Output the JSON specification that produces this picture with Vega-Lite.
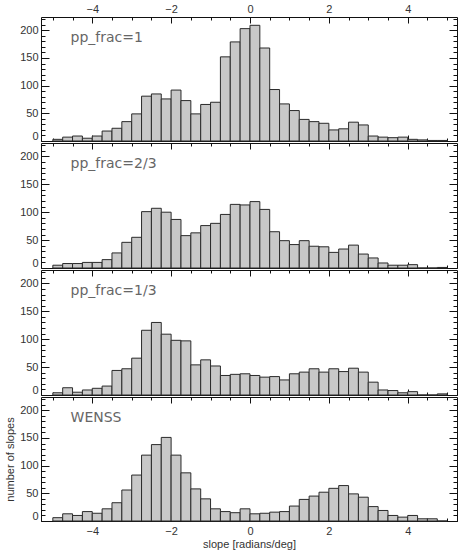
{
  "$schema": "https://vega.github.io/schema/vega-lite/v6.json",
  "padding": {"left": 4, "top": 2, "right": 5, "bottom": 2},
  "datasets": {
    "p1": [
      {"a":-5,"b":-4.75,"n":3},{"a":-4.75,"b":-4.5,"n":7},{"a":-4.5,"b":-4.25,"n":9},{"a":-4.25,"b":-4,"n":5},
      {"a":-4,"b":-3.75,"n":9},{"a":-3.75,"b":-3.5,"n":18},{"a":-3.5,"b":-3.25,"n":23},{"a":-3.25,"b":-3,"n":35},
      {"a":-3,"b":-2.75,"n":49},{"a":-2.75,"b":-2.5,"n":81},{"a":-2.5,"b":-2.25,"n":85},{"a":-2.25,"b":-2,"n":76},
      {"a":-2,"b":-1.75,"n":92},{"a":-1.75,"b":-1.5,"n":73},{"a":-1.5,"b":-1.25,"n":49},{"a":-1.25,"b":-1,"n":66},
      {"a":-1,"b":-0.75,"n":70},{"a":-0.75,"b":-0.5,"n":152},{"a":-0.5,"b":-0.25,"n":179},{"a":-0.25,"b":0,"n":203},
      {"a":0,"b":0.25,"n":209},{"a":0.25,"b":0.5,"n":168},{"a":0.5,"b":0.75,"n":93},{"a":0.75,"b":1,"n":67},
      {"a":1,"b":1.25,"n":55},{"a":1.25,"b":1.5,"n":39},{"a":1.5,"b":1.75,"n":35},{"a":1.75,"b":2,"n":32},
      {"a":2,"b":2.25,"n":20},{"a":2.25,"b":2.5,"n":22},{"a":2.5,"b":2.75,"n":34},{"a":2.75,"b":3,"n":29},
      {"a":3,"b":3.25,"n":9},{"a":3.25,"b":3.5,"n":7},{"a":3.5,"b":3.75,"n":6},{"a":3.75,"b":4,"n":7},
      {"a":4,"b":4.25,"n":3},{"a":4.25,"b":4.5,"n":2},{"a":4.5,"b":4.75,"n":1},{"a":4.75,"b":5,"n":1}
    ],
    "p2": [
      {"a":-5,"b":-4.75,"n":5},{"a":-4.75,"b":-4.5,"n":8},{"a":-4.5,"b":-4.25,"n":8},{"a":-4.25,"b":-4,"n":10},
      {"a":-4,"b":-3.75,"n":10},{"a":-3.75,"b":-3.5,"n":15},{"a":-3.5,"b":-3.25,"n":27},{"a":-3.25,"b":-3,"n":46},
      {"a":-3,"b":-2.75,"n":55},{"a":-2.75,"b":-2.5,"n":101},{"a":-2.5,"b":-2.25,"n":107},{"a":-2.25,"b":-2,"n":100},
      {"a":-2,"b":-1.75,"n":87},{"a":-1.75,"b":-1.5,"n":58},{"a":-1.5,"b":-1.25,"n":63},{"a":-1.25,"b":-1,"n":76},
      {"a":-1,"b":-0.75,"n":80},{"a":-0.75,"b":-0.5,"n":96},{"a":-0.5,"b":-0.25,"n":114},{"a":-0.25,"b":0,"n":113},
      {"a":0,"b":0.25,"n":119},{"a":0.25,"b":0.5,"n":105},{"a":0.5,"b":0.75,"n":65},{"a":0.75,"b":1,"n":49},
      {"a":1,"b":1.25,"n":42},{"a":1.25,"b":1.5,"n":49},{"a":1.5,"b":1.75,"n":39},{"a":1.75,"b":2,"n":38},
      {"a":2,"b":2.25,"n":28},{"a":2.25,"b":2.5,"n":34},{"a":2.5,"b":2.75,"n":41},{"a":2.75,"b":3,"n":25},
      {"a":3,"b":3.25,"n":18},{"a":3.25,"b":3.5,"n":9},{"a":3.5,"b":3.75,"n":5},{"a":3.75,"b":4,"n":5},
      {"a":4,"b":4.25,"n":6},{"a":4.25,"b":4.5,"n":0},{"a":4.5,"b":4.75,"n":0},{"a":4.75,"b":5,"n":1}
    ],
    "p3": [
      {"a":-5,"b":-4.75,"n":4},{"a":-4.75,"b":-4.5,"n":13},{"a":-4.5,"b":-4.25,"n":5},{"a":-4.25,"b":-4,"n":9},
      {"a":-4,"b":-3.75,"n":12},{"a":-3.75,"b":-3.5,"n":16},{"a":-3.5,"b":-3.25,"n":44},{"a":-3.25,"b":-3,"n":47},
      {"a":-3,"b":-2.75,"n":66},{"a":-2.75,"b":-2.5,"n":116},{"a":-2.5,"b":-2.25,"n":130},{"a":-2.25,"b":-2,"n":109},
      {"a":-2,"b":-1.75,"n":98},{"a":-1.75,"b":-1.5,"n":97},{"a":-1.5,"b":-1.25,"n":54},{"a":-1.25,"b":-1,"n":63},
      {"a":-1,"b":-0.75,"n":52},{"a":-0.75,"b":-0.5,"n":35},{"a":-0.5,"b":-0.25,"n":37},{"a":-0.25,"b":0,"n":38},
      {"a":0,"b":0.25,"n":35},{"a":0.25,"b":0.5,"n":32},{"a":0.5,"b":0.75,"n":33},{"a":0.75,"b":1,"n":27},
      {"a":1,"b":1.25,"n":38},{"a":1.25,"b":1.5,"n":41},{"a":1.5,"b":1.75,"n":47},{"a":1.75,"b":2,"n":41},
      {"a":2,"b":2.25,"n":47},{"a":2.25,"b":2.5,"n":42},{"a":2.5,"b":2.75,"n":48},{"a":2.75,"b":3,"n":41},
      {"a":3,"b":3.25,"n":23},{"a":3.25,"b":3.5,"n":9},{"a":3.5,"b":3.75,"n":8},{"a":3.75,"b":4,"n":4},
      {"a":4,"b":4.25,"n":6},{"a":4.25,"b":4.5,"n":0},{"a":4.5,"b":4.75,"n":0},{"a":4.75,"b":5,"n":2}
    ],
    "p4": [
      {"a":-5,"b":-4.75,"n":6},{"a":-4.75,"b":-4.5,"n":13},{"a":-4.5,"b":-4.25,"n":10},{"a":-4.25,"b":-4,"n":17},
      {"a":-4,"b":-3.75,"n":14},{"a":-3.75,"b":-3.5,"n":22},{"a":-3.5,"b":-3.25,"n":33},{"a":-3.25,"b":-3,"n":56},
      {"a":-3,"b":-2.75,"n":83},{"a":-2.75,"b":-2.5,"n":119},{"a":-2.5,"b":-2.25,"n":138},{"a":-2.25,"b":-2,"n":151},
      {"a":-2,"b":-1.75,"n":119},{"a":-1.75,"b":-1.5,"n":87},{"a":-1.5,"b":-1.25,"n":58},{"a":-1.25,"b":-1,"n":40},
      {"a":-1,"b":-0.75,"n":22},{"a":-0.75,"b":-0.5,"n":17},{"a":-0.5,"b":-0.25,"n":15},{"a":-0.25,"b":0,"n":22},
      {"a":0,"b":0.25,"n":13},{"a":0.25,"b":0.5,"n":14},{"a":0.5,"b":0.75,"n":16},{"a":0.75,"b":1,"n":17},
      {"a":1,"b":1.25,"n":27},{"a":1.25,"b":1.5,"n":39},{"a":1.5,"b":1.75,"n":45},{"a":1.75,"b":2,"n":52},
      {"a":2,"b":2.25,"n":59},{"a":2.25,"b":2.5,"n":64},{"a":2.5,"b":2.75,"n":49},{"a":2.75,"b":3,"n":43},
      {"a":3,"b":3.25,"n":26},{"a":3.25,"b":3.5,"n":19},{"a":3.5,"b":3.75,"n":10},{"a":3.75,"b":4,"n":7},
      {"a":4,"b":4.25,"n":10},{"a":4.25,"b":4.5,"n":4},{"a":4.5,"b":4.75,"n":4},{"a":4.75,"b":5,"n":0}
    ]
  },
  "spacing": 0,
  "vconcat": [
    {
      "width": 416, "height": 124,
      "data": {"name": "p1"},
      "layer": [
        {"mark": {"type": "bar", "fill": "#c8c8c8", "stroke": "#2a2a2a", "strokeWidth": 1},
         "encoding": {
           "x": {"field": "a", "type": "quantitative", "scale": {"domain": [-5.3, 5.25], "nice": false, "zero": false},
                 "axis": {"orient": "bottom", "values": [-4,-2,0,2,4], "tickSize": -6, "labels": false, "domain": false, "title": null}},
           "x2": {"field": "b"},
           "y": {"field": "n", "type": "quantitative", "scale": {"domain": [0, 224], "nice": false},
                 "axis": {"orient": "left", "values": [0,50,100,150,200], "tickSize": -8, "labelPadding": 11, "labelFlush": true, "domain": false, "title": null}},
           "y2": {"datum": 0}}},
        {"mark": {"type": "bar", "opacity": 0},
         "encoding": {
           "x": {"field": "a", "type": "quantitative", "scale": {"domain": [-5.3, 5.25], "nice": false, "zero": false},
                 "axis": {"orient": "bottom", "values": [-5,-4.5,-4,-3.5,-3,-2.5,-2,-1.5,-1,-0.5,0,0.5,1,1.5,2,2.5,3,3.5,4,4.5,5], "tickSize": -3, "labels": false, "domain": false, "title": null}},
           "x2": {"field": "b"},
           "y": {"field": "n", "type": "quantitative", "scale": {"domain": [0, 224], "nice": false},
                 "axis": {"orient": "left", "values": [0,10,20,30,40,50,60,70,80,90,100,110,120,130,140,150,160,170,180,190,200,210,220], "tickSize": -4, "labels": false, "domain": false, "title": null}},
           "y2": {"datum": 0}}},
        {"mark": {"type": "bar", "opacity": 0},
         "encoding": {
           "x": {"field": "a", "type": "quantitative", "scale": {"domain": [-5.3, 5.25], "nice": false, "zero": false},
                 "axis": {"orient": "top", "values": [-4,-2,0,2,4], "tickSize": -6, "labels": true, "labelPadding": 9, "domain": false, "title": null}},
           "x2": {"field": "b"},
           "y": {"field": "n", "type": "quantitative", "scale": {"domain": [0, 224], "nice": false},
                 "axis": {"orient": "right", "values": [0,50,100,150,200], "tickSize": -8, "labels": false, "domain": false, "title": null}},
           "y2": {"datum": 0}}},
        {"mark": {"type": "bar", "opacity": 0},
         "encoding": {
           "x": {"field": "a", "type": "quantitative", "scale": {"domain": [-5.3, 5.25], "nice": false, "zero": false},
                 "axis": {"orient": "top", "values": [-5,-4.5,-4,-3.5,-3,-2.5,-2,-1.5,-1,-0.5,0,0.5,1,1.5,2,2.5,3,3.5,4,4.5,5], "tickSize": -3, "labels": false, "domain": false, "title": null}},
           "x2": {"field": "b"},
           "y": {"field": "n", "type": "quantitative", "scale": {"domain": [0, 224], "nice": false},
                 "axis": {"orient": "right", "values": [0,10,20,30,40,50,60,70,80,90,100,110,120,130,140,150,160,170,180,190,200,210,220], "tickSize": -4, "labels": false, "domain": false, "title": null}},
           "y2": {"datum": 0}}},
        {"data": {"values": [{"x": -4.55, "y": 186, "label": "pp_frac=1"}]},
         "mark": {"type": "text", "align": "left", "baseline": "middle", "font": "DejaVu Sans", "fontSize": 14, "color": "#666"},
         "encoding": {
           "x": {"field": "x", "type": "quantitative", "scale": {"domain": [-5.3, 5.25], "nice": false, "zero": false}, "axis": null},
           "y": {"field": "y", "type": "quantitative", "scale": {"domain": [0, 224], "nice": false}, "axis": null},
           "text": {"field": "label"}}}
      ],
      "resolve": {"axis": {"x": "independent", "y": "independent"}}
    },
    {
      "width": 416, "height": 125,
      "data": {"name": "p2"},
      "layer": [
        {"mark": {"type": "bar", "fill": "#c8c8c8", "stroke": "#2a2a2a", "strokeWidth": 1},
         "encoding": {
           "x": {"field": "a", "type": "quantitative", "scale": {"domain": [-5.3, 5.25], "nice": false, "zero": false},
                 "axis": {"orient": "bottom", "values": [-4,-2,0,2,4], "tickSize": -6, "labels": false, "domain": false, "title": null}},
           "x2": {"field": "b"},
           "y": {"field": "n", "type": "quantitative", "scale": {"domain": [0, 224], "nice": false},
                 "axis": {"orient": "left", "values": [0,50,100,150,200], "tickSize": -8, "labelPadding": 11, "labelFlush": true, "domain": false, "title": null}},
           "y2": {"datum": 0}}},
        {"mark": {"type": "bar", "opacity": 0},
         "encoding": {
           "x": {"field": "a", "type": "quantitative", "scale": {"domain": [-5.3, 5.25], "nice": false, "zero": false},
                 "axis": {"orient": "bottom", "values": [-5,-4.5,-4,-3.5,-3,-2.5,-2,-1.5,-1,-0.5,0,0.5,1,1.5,2,2.5,3,3.5,4,4.5,5], "tickSize": -3, "labels": false, "domain": false, "title": null}},
           "x2": {"field": "b"},
           "y": {"field": "n", "type": "quantitative", "scale": {"domain": [0, 224], "nice": false},
                 "axis": {"orient": "left", "values": [0,10,20,30,40,50,60,70,80,90,100,110,120,130,140,150,160,170,180,190,200,210,220], "tickSize": -4, "labels": false, "domain": false, "title": null}},
           "y2": {"datum": 0}}},
        {"mark": {"type": "bar", "opacity": 0},
         "encoding": {
           "x": {"field": "a", "type": "quantitative", "scale": {"domain": [-5.3, 5.25], "nice": false, "zero": false},
                 "axis": {"orient": "top", "values": [-4,-2,0,2,4], "tickSize": -6, "labels": false, "domain": false, "title": null}},
           "x2": {"field": "b"},
           "y": {"field": "n", "type": "quantitative", "scale": {"domain": [0, 224], "nice": false},
                 "axis": {"orient": "right", "values": [0,50,100,150,200], "tickSize": -8, "labels": false, "domain": false, "title": null}},
           "y2": {"datum": 0}}},
        {"mark": {"type": "bar", "opacity": 0},
         "encoding": {
           "x": {"field": "a", "type": "quantitative", "scale": {"domain": [-5.3, 5.25], "nice": false, "zero": false},
                 "axis": {"orient": "top", "values": [-5,-4.5,-4,-3.5,-3,-2.5,-2,-1.5,-1,-0.5,0,0.5,1,1.5,2,2.5,3,3.5,4,4.5,5], "tickSize": -3, "labels": false, "domain": false, "title": null}},
           "x2": {"field": "b"},
           "y": {"field": "n", "type": "quantitative", "scale": {"domain": [0, 224], "nice": false},
                 "axis": {"orient": "right", "values": [0,10,20,30,40,50,60,70,80,90,100,110,120,130,140,150,160,170,180,190,200,210,220], "tickSize": -4, "labels": false, "domain": false, "title": null}},
           "y2": {"datum": 0}}},
        {"data": {"values": [{"x": -4.55, "y": 186, "label": "pp_frac=2/3"}]},
         "mark": {"type": "text", "align": "left", "baseline": "middle", "font": "DejaVu Sans", "fontSize": 14, "color": "#666"},
         "encoding": {
           "x": {"field": "x", "type": "quantitative", "scale": {"domain": [-5.3, 5.25], "nice": false, "zero": false}, "axis": null},
           "y": {"field": "y", "type": "quantitative", "scale": {"domain": [0, 224], "nice": false}, "axis": null},
           "text": {"field": "label"}}}
      ],
      "resolve": {"axis": {"x": "independent", "y": "independent"}}
    },
    {
      "width": 416, "height": 125,
      "data": {"name": "p3"},
      "layer": [
        {"mark": {"type": "bar", "fill": "#c8c8c8", "stroke": "#2a2a2a", "strokeWidth": 1},
         "encoding": {
           "x": {"field": "a", "type": "quantitative", "scale": {"domain": [-5.3, 5.25], "nice": false, "zero": false},
                 "axis": {"orient": "bottom", "values": [-4,-2,0,2,4], "tickSize": -6, "labels": false, "domain": false, "title": null}},
           "x2": {"field": "b"},
           "y": {"field": "n", "type": "quantitative", "scale": {"domain": [0, 224], "nice": false},
                 "axis": {"orient": "left", "values": [0,50,100,150,200], "tickSize": -8, "labelPadding": 11, "labelFlush": true, "domain": false, "title": null}},
           "y2": {"datum": 0}}},
        {"mark": {"type": "bar", "opacity": 0},
         "encoding": {
           "x": {"field": "a", "type": "quantitative", "scale": {"domain": [-5.3, 5.25], "nice": false, "zero": false},
                 "axis": {"orient": "bottom", "values": [-5,-4.5,-4,-3.5,-3,-2.5,-2,-1.5,-1,-0.5,0,0.5,1,1.5,2,2.5,3,3.5,4,4.5,5], "tickSize": -3, "labels": false, "domain": false, "title": null}},
           "x2": {"field": "b"},
           "y": {"field": "n", "type": "quantitative", "scale": {"domain": [0, 224], "nice": false},
                 "axis": {"orient": "left", "values": [0,10,20,30,40,50,60,70,80,90,100,110,120,130,140,150,160,170,180,190,200,210,220], "tickSize": -4, "labels": false, "domain": false, "title": null}},
           "y2": {"datum": 0}}},
        {"mark": {"type": "bar", "opacity": 0},
         "encoding": {
           "x": {"field": "a", "type": "quantitative", "scale": {"domain": [-5.3, 5.25], "nice": false, "zero": false},
                 "axis": {"orient": "top", "values": [-4,-2,0,2,4], "tickSize": -6, "labels": false, "domain": false, "title": null}},
           "x2": {"field": "b"},
           "y": {"field": "n", "type": "quantitative", "scale": {"domain": [0, 224], "nice": false},
                 "axis": {"orient": "right", "values": [0,50,100,150,200], "tickSize": -8, "labels": false, "domain": false, "title": null}},
           "y2": {"datum": 0}}},
        {"mark": {"type": "bar", "opacity": 0},
         "encoding": {
           "x": {"field": "a", "type": "quantitative", "scale": {"domain": [-5.3, 5.25], "nice": false, "zero": false},
                 "axis": {"orient": "top", "values": [-5,-4.5,-4,-3.5,-3,-2.5,-2,-1.5,-1,-0.5,0,0.5,1,1.5,2,2.5,3,3.5,4,4.5,5], "tickSize": -3, "labels": false, "domain": false, "title": null}},
           "x2": {"field": "b"},
           "y": {"field": "n", "type": "quantitative", "scale": {"domain": [0, 224], "nice": false},
                 "axis": {"orient": "right", "values": [0,10,20,30,40,50,60,70,80,90,100,110,120,130,140,150,160,170,180,190,200,210,220], "tickSize": -4, "labels": false, "domain": false, "title": null}},
           "y2": {"datum": 0}}},
        {"data": {"values": [{"x": -4.55, "y": 186, "label": "pp_frac=1/3"}]},
         "mark": {"type": "text", "align": "left", "baseline": "middle", "font": "DejaVu Sans", "fontSize": 14, "color": "#666"},
         "encoding": {
           "x": {"field": "x", "type": "quantitative", "scale": {"domain": [-5.3, 5.25], "nice": false, "zero": false}, "axis": null},
           "y": {"field": "y", "type": "quantitative", "scale": {"domain": [0, 224], "nice": false}, "axis": null},
           "text": {"field": "label"}}}
      ],
      "resolve": {"axis": {"x": "independent", "y": "independent"}}
    },
    {
      "width": 416, "height": 124,
      "data": {"name": "p4"},
      "layer": [
        {"mark": {"type": "bar", "fill": "#c8c8c8", "stroke": "#2a2a2a", "strokeWidth": 1},
         "encoding": {
           "x": {"field": "a", "type": "quantitative", "scale": {"domain": [-5.3, 5.25], "nice": false, "zero": false},
                 "axis": {"orient": "bottom", "values": [-4,-2,0,2,4], "tickSize": -6, "labels": true, "labelPadding": 10, "domain": false, "title": "slope [radians/deg]", "titlePadding": 2}},
           "x2": {"field": "b"},
           "y": {"field": "n", "type": "quantitative", "scale": {"domain": [0, 224], "nice": false},
                 "axis": {"orient": "left", "values": [0,50,100,150,200], "tickSize": -8, "labelPadding": 11, "labelFlush": true, "domain": false, "title": "number of slopes", "titlePadding": 4}},
           "y2": {"datum": 0}}},
        {"mark": {"type": "bar", "opacity": 0},
         "encoding": {
           "x": {"field": "a", "type": "quantitative", "scale": {"domain": [-5.3, 5.25], "nice": false, "zero": false},
                 "axis": {"orient": "bottom", "values": [-5,-4.5,-4,-3.5,-3,-2.5,-2,-1.5,-1,-0.5,0,0.5,1,1.5,2,2.5,3,3.5,4,4.5,5], "tickSize": -3, "labels": false, "domain": false, "title": null}},
           "x2": {"field": "b"},
           "y": {"field": "n", "type": "quantitative", "scale": {"domain": [0, 224], "nice": false},
                 "axis": {"orient": "left", "values": [0,10,20,30,40,50,60,70,80,90,100,110,120,130,140,150,160,170,180,190,200,210,220], "tickSize": -4, "labels": false, "domain": false, "title": null}},
           "y2": {"datum": 0}}},
        {"mark": {"type": "bar", "opacity": 0},
         "encoding": {
           "x": {"field": "a", "type": "quantitative", "scale": {"domain": [-5.3, 5.25], "nice": false, "zero": false},
                 "axis": {"orient": "top", "values": [-4,-2,0,2,4], "tickSize": -6, "labels": false, "domain": false, "title": null}},
           "x2": {"field": "b"},
           "y": {"field": "n", "type": "quantitative", "scale": {"domain": [0, 224], "nice": false},
                 "axis": {"orient": "right", "values": [0,50,100,150,200], "tickSize": -8, "labels": false, "domain": false, "title": null}},
           "y2": {"datum": 0}}},
        {"mark": {"type": "bar", "opacity": 0},
         "encoding": {
           "x": {"field": "a", "type": "quantitative", "scale": {"domain": [-5.3, 5.25], "nice": false, "zero": false},
                 "axis": {"orient": "top", "values": [-5,-4.5,-4,-3.5,-3,-2.5,-2,-1.5,-1,-0.5,0,0.5,1,1.5,2,2.5,3,3.5,4,4.5,5], "tickSize": -3, "labels": false, "domain": false, "title": null}},
           "x2": {"field": "b"},
           "y": {"field": "n", "type": "quantitative", "scale": {"domain": [0, 224], "nice": false},
                 "axis": {"orient": "right", "values": [0,10,20,30,40,50,60,70,80,90,100,110,120,130,140,150,160,170,180,190,200,210,220], "tickSize": -4, "labels": false, "domain": false, "title": null}},
           "y2": {"datum": 0}}},
        {"data": {"values": [{"x": -4.55, "y": 186, "label": "WENSS"}]},
         "mark": {"type": "text", "align": "left", "baseline": "middle", "font": "DejaVu Sans", "fontSize": 14, "color": "#666"},
         "encoding": {
           "x": {"field": "x", "type": "quantitative", "scale": {"domain": [-5.3, 5.25], "nice": false, "zero": false}, "axis": null},
           "y": {"field": "y", "type": "quantitative", "scale": {"domain": [0, 224], "nice": false}, "axis": null},
           "text": {"field": "label"}}}
      ],
      "resolve": {"axis": {"x": "independent", "y": "independent"}}
    }
  ],
  "config": {
    "view": {"stroke": "#111", "strokeWidth": 1},
    "axis": {"grid": false, "tickColor": "#111", "tickWidth": 1, "labelFont": "Liberation Sans", "labelFontSize": 11, "labelColor": "#333",
             "titleFont": "Liberation Sans", "titleFontSize": 11, "titleFontWeight": "normal", "titleColor": "#333"}
  }
}
